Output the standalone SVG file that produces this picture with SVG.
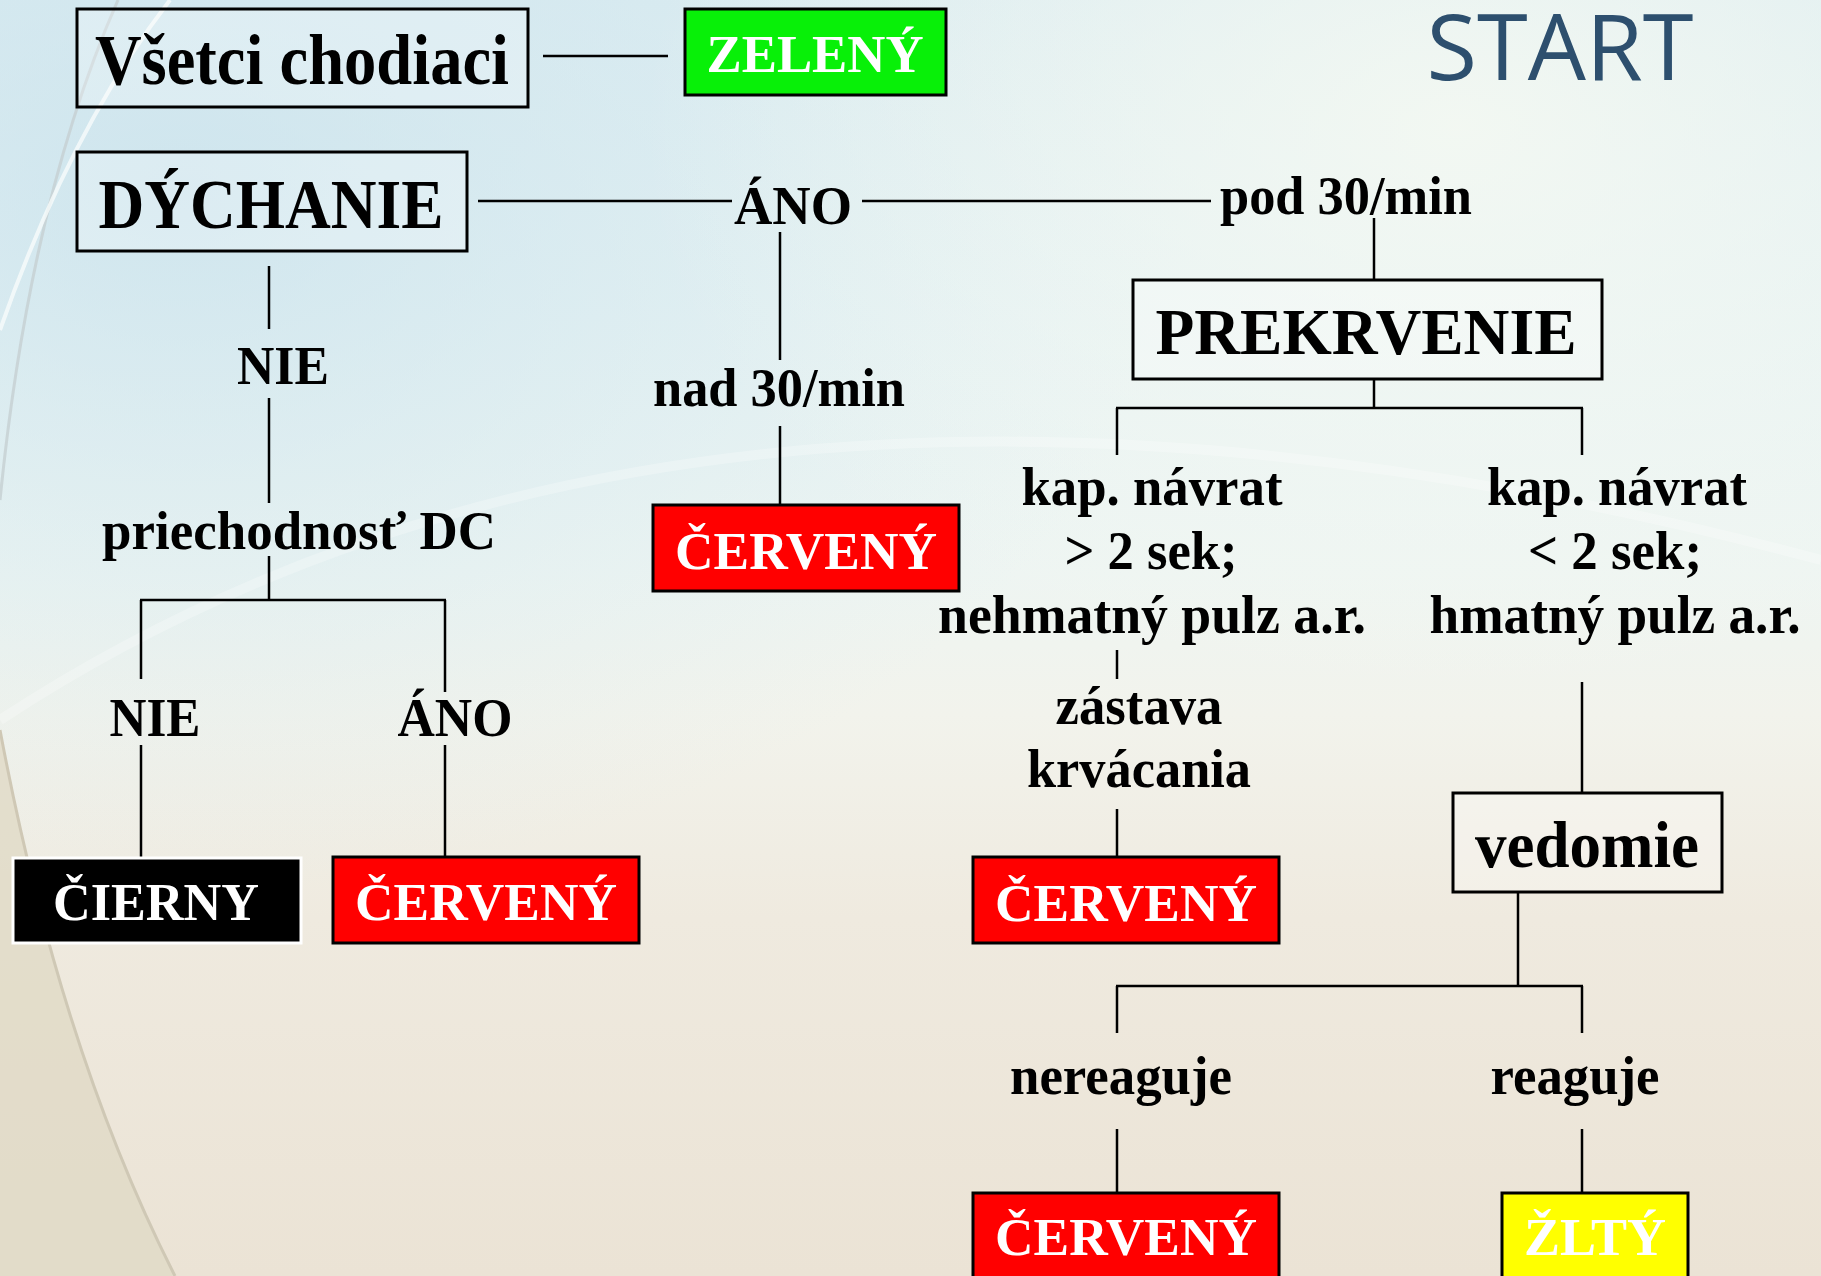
<svg xmlns="http://www.w3.org/2000/svg" width="1821" height="1276" viewBox="0 0 1821 1276">
<defs>
<linearGradient id="bgv" x1="0" y1="0" x2="0" y2="1">
<stop offset="0" stop-color="#dbecf1"/>
<stop offset="0.25" stop-color="#e6f2f3"/>
<stop offset="0.45" stop-color="#eef5f2"/>
<stop offset="0.56" stop-color="#f2f3ec"/>
<stop offset="0.72" stop-color="#efeadf"/>
<stop offset="1" stop-color="#ebe3d5"/>
</linearGradient>
<radialGradient id="blueTL" cx="0.1" cy="0.15" r="0.55">
<stop offset="0" stop-color="#c7e1ec" stop-opacity="0.7"/>
<stop offset="1" stop-color="#d6eaf0" stop-opacity="0"/>
</radialGradient>
<radialGradient id="whiteTR" cx="0.8" cy="0.1" r="0.45">
<stop offset="0" stop-color="#f7faf2" stop-opacity="0.8"/>
<stop offset="1" stop-color="#f7faf2" stop-opacity="0"/>
</radialGradient>
<radialGradient id="blueLeft" cx="0" cy="0.5" r="0.5">
<stop offset="0" stop-color="#9fcfe6" stop-opacity="0.7"/>
<stop offset="1" stop-color="#bfe0ee" stop-opacity="0"/>
</radialGradient>
<style>
.box{stroke:#000;stroke-width:3}
.wbox{fill:#ffffff;fill-opacity:0.25}
.t{font-family:"Liberation Serif","Times New Roman",serif;font-weight:bold;text-anchor:middle}
.lbl{font-size:54px;fill:#000}
.bt{font-size:53px;fill:#fff}
.wt{fill:#000}
#connectors line{stroke:#000;stroke-width:2.5}
</style>
</defs>
<g id="background">
<rect x="0" y="0" width="1821" height="1276" fill="url(#bgv)"/>
<rect x="0" y="0" width="1821" height="1276" fill="url(#blueTL)"/>
<rect x="0" y="0" width="1821" height="1276" fill="url(#whiteTR)"/>
<ellipse cx="0" cy="560" rx="50" ry="260" fill="url(#blueLeft)"/>
<path d="M0,730 Q60,1050 175,1276 L0,1276 Z" fill="#e0d9c6" opacity="0.8"/>
<path d="M0,730 Q60,1050 175,1276" fill="none" stroke="#cfc8b5" stroke-width="3"/>
<path d="M118,0 Q30,200 0,500" fill="none" stroke="#c6cfd2" stroke-width="3" opacity="0.8"/>
<path d="M170,0 Q70,130 0,330" fill="none" stroke="#f8fbfb" stroke-width="4" opacity="0.8"/>
<path d="M0,720 Q700,260 1821,560" fill="none" stroke="#ffffff" stroke-width="10" opacity="0.25"/>
</g>
<g id="connectors">
<line x1="543" y1="56" x2="668" y2="56"/>
<line x1="478" y1="201" x2="732" y2="201"/>
<line x1="862" y1="201" x2="1211" y2="201"/>
<line x1="1374" y1="218" x2="1374" y2="280"/>
<line x1="780" y1="232" x2="780" y2="360"/>
<line x1="780" y1="426" x2="780" y2="505"/>
<line x1="269" y1="266" x2="269" y2="329"/>
<line x1="269" y1="398" x2="269" y2="503"/>
<line x1="269" y1="556" x2="269" y2="600"/>
<line x1="140" y1="600" x2="446" y2="600"/>
<line x1="141" y1="600" x2="141" y2="679"/>
<line x1="445" y1="600" x2="445" y2="692"/>
<line x1="141" y1="745" x2="141" y2="858"/>
<line x1="445" y1="745" x2="445" y2="857"/>
<line x1="1374" y1="379" x2="1374" y2="408"/>
<line x1="1116" y1="408" x2="1583" y2="408"/>
<line x1="1117" y1="408" x2="1117" y2="455"/>
<line x1="1582" y1="408" x2="1582" y2="455"/>
<line x1="1117" y1="650" x2="1117" y2="679"/>
<line x1="1117" y1="809" x2="1117" y2="857"/>
<line x1="1582" y1="682" x2="1582" y2="793"/>
<line x1="1518" y1="892" x2="1518" y2="986"/>
<line x1="1116" y1="986" x2="1583" y2="986"/>
<line x1="1117" y1="986" x2="1117" y2="1033"/>
<line x1="1582" y1="986" x2="1582" y2="1033"/>
<line x1="1117" y1="1129" x2="1117" y2="1193"/>
<line x1="1582" y1="1129" x2="1582" y2="1193"/>
</g>
<g id="start"><text x="1560" y="80" font-family="Open Sans, Noto Sans, sans-serif" font-size="92" fill="#2d4f6e" text-anchor="middle" textLength="267" lengthAdjust="spacingAndGlyphs">START</text></g>
<g id="vsetci"><rect class="box wbox" x="77" y="9" width="451" height="98"/><text class="t wt" x="302" y="84" font-size="72" textLength="414" lengthAdjust="spacingAndGlyphs">Všetci chodiaci</text></g>
<g id="zeleny"><rect class="box" x="685" y="9" width="261" height="86" fill="#08f008"/><text class="t bt" x="815" y="72" textLength="217" lengthAdjust="spacingAndGlyphs">ZELENÝ</text></g>
<g id="dychanie"><rect class="box wbox" x="77" y="152" width="390" height="99"/><text class="t wt" x="271" y="228" font-size="70" textLength="345" lengthAdjust="spacingAndGlyphs">DÝCHANIE</text></g>
<g id="ano1"><text class="t lbl" x="793" y="224" textLength="118" lengthAdjust="spacingAndGlyphs">ÁNO</text></g>
<g id="pod30"><text class="t lbl" x="1346" y="214" textLength="252" lengthAdjust="spacingAndGlyphs">pod 30/min</text></g>
<g id="prekrvenie"><rect class="box wbox" x="1133" y="280" width="469" height="99"/><text class="t wt" x="1366" y="354" font-size="66" textLength="421" lengthAdjust="spacingAndGlyphs">PREKRVENIE</text></g>
<g id="nie1"><text class="t lbl" x="283" y="384" textLength="92" lengthAdjust="spacingAndGlyphs">NIE</text></g>
<g id="nad30"><text class="t lbl" x="779" y="406" textLength="252" lengthAdjust="spacingAndGlyphs">nad 30/min</text></g>
<g id="cerveny1"><rect class="box" x="653" y="505" width="306" height="86" fill="#ff0000"/><text class="t bt" x="806" y="569" textLength="262" lengthAdjust="spacingAndGlyphs">ČERVENÝ</text></g>
<g id="priechodnost"><text class="t lbl" x="299" y="549" textLength="394" lengthAdjust="spacingAndGlyphs">priechodnosť DC</text></g>
<g id="nie2"><text class="t lbl" x="155" y="736" textLength="91" lengthAdjust="spacingAndGlyphs">NIE</text></g>
<g id="ano2"><text class="t lbl" x="455" y="736" textLength="115" lengthAdjust="spacingAndGlyphs">ÁNO</text></g>
<g id="cierny"><rect x="13" y="858" width="288" height="85" fill="#000" stroke="#fff" stroke-width="3"/><text class="t bt" x="156" y="920" textLength="206" lengthAdjust="spacingAndGlyphs">ČIERNY</text></g>
<g id="cerveny2"><rect class="box" x="333" y="857" width="306" height="86" fill="#ff0000"/><text class="t bt" x="486" y="920" textLength="262" lengthAdjust="spacingAndGlyphs">ČERVENÝ</text></g>
<g id="kap1">
<text class="t lbl" x="1152" y="505" textLength="261" lengthAdjust="spacingAndGlyphs">kap. návrat</text>
<text class="t lbl" x="1151" y="569" textLength="173" lengthAdjust="spacingAndGlyphs">&gt; 2 sek;</text>
<text class="t lbl" x="1152" y="633" textLength="428" lengthAdjust="spacingAndGlyphs">nehmatný pulz a.r.</text>
</g>
<g id="kap2">
<text class="t lbl" x="1617" y="505" textLength="260" lengthAdjust="spacingAndGlyphs">kap. návrat</text>
<text class="t lbl" x="1615" y="569" textLength="174" lengthAdjust="spacingAndGlyphs">&lt; 2 sek;</text>
<text class="t lbl" x="1615" y="633" textLength="371" lengthAdjust="spacingAndGlyphs">hmatný pulz a.r.</text>
</g>
<g id="zastava">
<text class="t lbl" x="1139" y="724" textLength="167" lengthAdjust="spacingAndGlyphs">zástava</text>
<text class="t lbl" x="1139" y="787" textLength="224" lengthAdjust="spacingAndGlyphs">krvácania</text>
</g>
<g id="cerveny3"><rect class="box" x="973" y="857" width="306" height="86" fill="#ff0000"/><text class="t bt" x="1126" y="921" textLength="262" lengthAdjust="spacingAndGlyphs">ČERVENÝ</text></g>
<g id="vedomie"><rect class="box wbox" x="1453" y="793" width="269" height="99"/><text class="t wt" x="1587" y="867" font-size="66" textLength="224" lengthAdjust="spacingAndGlyphs">vedomie</text></g>
<g id="nereaguje"><text class="t lbl" x="1121" y="1094" textLength="222" lengthAdjust="spacingAndGlyphs">nereaguje</text></g>
<g id="reaguje"><text class="t lbl" x="1575" y="1094" textLength="169" lengthAdjust="spacingAndGlyphs">reaguje</text></g>
<g id="cerveny4"><rect class="box" x="973" y="1193" width="306" height="90" fill="#ff0000"/><text class="t bt" x="1126" y="1255" textLength="262" lengthAdjust="spacingAndGlyphs">ČERVENÝ</text></g>
<g id="zlty"><rect class="box" x="1502" y="1193" width="186" height="90" fill="#ffff00"/><text class="t bt" x="1595" y="1255" textLength="142" lengthAdjust="spacingAndGlyphs">ŽLTÝ</text></g>
</svg>
